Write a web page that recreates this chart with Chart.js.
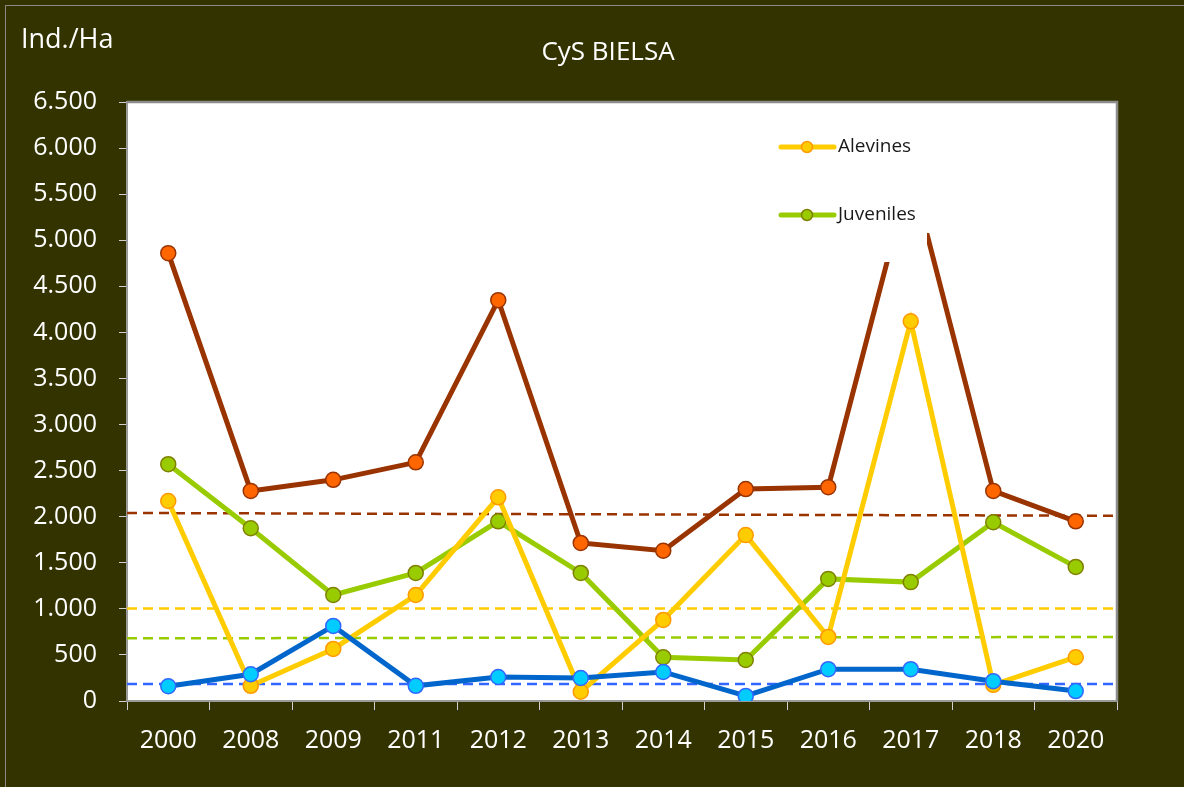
<!DOCTYPE html>
<html>
<head>
<meta charset="utf-8">
<script src="https://cdn.jsdelivr.net/npm/chart.js@4"></script>
<style>
  html, body { margin: 0; padding: 0; background: #333300; }
  #wrap { width: 1184px; height: 787px; }
</style>
</head>
<body>
<div id="wrap"><canvas id="myChart" width="1184" height="787"></canvas></div>
<script>
// data
var years = ['2000', '2008', '2009', '2011', '2012', '2013', '2014', '2015', '2016', '2017', '2018', '2020'];
var total = [4860, 2280, 2400, 2590, 4350, 1715, 1630, 2300, 2320, 5750, 2280, 1950];
var alevines = [2170, 165, 565, 1150, 2210, 100, 880, 1800, 695, 4120, 175, 475];
var juveniles = [2570, 1875, 1150, 1390, 1950, 1390, 475, 445, 1325, 1290, 1940, 1455];
var parr = [160, 290, 815, 165, 260, 250, 315, 55, 345, 345, 215, 108];
// dashed reference lines (start, end)
var totalRef = [2040, 2010];
var alevinesRef = [1005, 1005];
var juvenilesRef = [680, 695];
var parrRef = [185, 185];
var yTicks = [0, 500, 1000, 1500, 2000, 2500, 3000, 3500, 4000, 4500, 5000, 5500, 6000, 6500];

var FONT = "'Open Sans', 'DejaVu Sans', sans-serif";

function refLine(vals, color) {
	return {
		data: [{x: 0, y: vals[0]}, {x: 1, y: vals[1]}],
		xAxisID: 'x2',
		borderColor: color,
		borderWidth: 2.5,
		borderDash: [10, 6],
		pointRadius: 0,
		fill: false,
		order: 10
	};
}

function serie(label, vals, line, fillc, edge, ord) {
	return {
		label: label,
		data: vals,
		borderColor: line,
		borderWidth: 5,
		pointRadius: 7.5,
		pointBorderWidth: 1.5,
		pointBackgroundColor: fillc,
		pointBorderColor: edge,
		tension: 0,
		fill: false,
		order: ord
	};
}

// background, title, axis name, plot frame
var decor = {
	id: 'decor',
	beforeDraw: function(chart) {
		var c = chart.ctx, a = chart.chartArea;
		c.save();
		c.fillStyle = '#333300';
		c.fillRect(0, 0, chart.width, chart.height);
		c.strokeStyle = '#8a8a80';
		c.lineWidth = 1;
		c.strokeRect(5.5, 5.5, 1190, 800);
		c.fillStyle = '#ffffff';
		c.fillRect(a.left, a.top, a.right - a.left, a.bottom - a.top);
		c.fillStyle = '#ffffff';
		c.font = "26px " + FONT;
		c.textBaseline = 'middle';
		c.textAlign = 'center';
		c.fillText('CyS BIELSA', 608, 53);
		c.textAlign = 'left';
		c.font = "27px " + FONT;
		c.fillText('Ind./Ha', 21, 40);
		c.restore();
	},
	afterDraw: function(chart) {
		var c = chart.ctx, a = chart.chartArea;
		c.save();
		c.strokeStyle = '#8c8c8c';
		c.lineWidth = 2.5;
		c.beginPath();
		c.moveTo(a.left, a.top);
		c.lineTo(a.right, a.top);
		c.lineTo(a.right, a.bottom);
		c.stroke();
		c.restore();
	}
};

// white legend box with only two entries, as in the original
var legendBox = {
	id: 'legendBox',
	afterDatasetsDraw: function(chart) {
		var c = chart.ctx;
		c.save();
		c.fillStyle = '#ffffff';
		c.fillRect(770, 110, 340, 123);
		c.fillRect(770, 110, 157, 152);
		var items = [
			{t: 'Alevines', y: 147, line: '#ffcc00', fill: '#ffcc00', edge: '#ff9900'},
			{t: 'Juveniles', y: 215, line: '#99cc00', fill: '#99cc00', edge: '#808000'}
		];
		items.forEach(function(it) {
			c.strokeStyle = it.line;
			c.lineWidth = 5;
			c.lineCap = 'round';
			c.beginPath();
			c.moveTo(781, it.y);
			c.lineTo(834, it.y);
			c.stroke();
			c.beginPath();
			c.arc(807, it.y, 5.5, 0, Math.PI * 2);
			c.fillStyle = it.fill;
			c.fill();
			c.lineWidth = 1.5;
			c.strokeStyle = it.edge;
			c.stroke();
			c.fillStyle = '#1a1a1a';
			c.font = "19px " + FONT;
			c.textAlign = 'left';
			c.textBaseline = 'middle';
			c.fillText(it.t, 838, it.y);
		});
		c.restore();
	}
};

window.onload = function() {
	var ctx = document.getElementById('myChart');
	var myLineChart = new Chart(ctx, {
		type: 'line',
		data: {
			labels: years,
			datasets: [
				serie('Total', total, '#993300', '#ff6600', '#993300', 3),
				serie('Alevines', alevines, '#ffcc00', '#ffcc00', '#ff9900', 1),
				serie('Juveniles', juveniles, '#99cc00', '#99cc00', '#808000', 2),
				serie('Parr', parr, '#0066cc', '#00ccff', '#3366ff', 0),
				refLine(totalRef, '#993300'),
				refLine(alevinesRef, '#ffcc00'),
				refLine(juvenilesRef, '#99cc00'),
				refLine(parrRef, '#3366ff')
			]
		},
		options: {
			responsive: false,
			animation: false,
			layout: { padding: { left: 0, top: 102, right: 67, bottom: 0 } },
			plugins: {
				legend: { display: false },
				title: { display: false },
				tooltip: { enabled: false }
			},
			scales: {
				x: {
					type: 'category',
					offset: true,
					grid: {
						display: true,
						offset: true,
						drawOnChartArea: false,
						drawTicks: true,
						tickLength: 9,
						color: '#d0d0d0'
					},
					border: { display: true, color: '#9a9a9a', width: 2 },
					ticks: {
						color: '#ffffff',
						font: { family: FONT, size: 25 },
						padding: 16
					},
					afterFit: function(s) { s.height = 86; }
				},
				x2: {
					type: 'linear',
					min: 0,
					max: 1,
					display: false
				},
				y: {
					min: 0,
					max: 6500,
					afterBuildTicks: function(s) {
						s.ticks = yTicks.map(function(v) { return {value: v}; });
					},
					grid: {
						display: true,
						drawOnChartArea: false,
						drawTicks: true,
						tickLength: 8,
						color: '#d0d0d0'
					},
					border: { display: true, color: '#9a9a9a', width: 2 },
					ticks: {
						color: '#ffffff',
						font: { family: FONT, size: 25 },
						padding: 22,
						callback: function(v) {
							return v.toLocaleString('de-DE');
						}
					},
					afterFit: function(s) { s.width = 127; }
				}
			}
		},
		plugins: [decor, legendBox]
	});
};
</script>
</body>
</html>
